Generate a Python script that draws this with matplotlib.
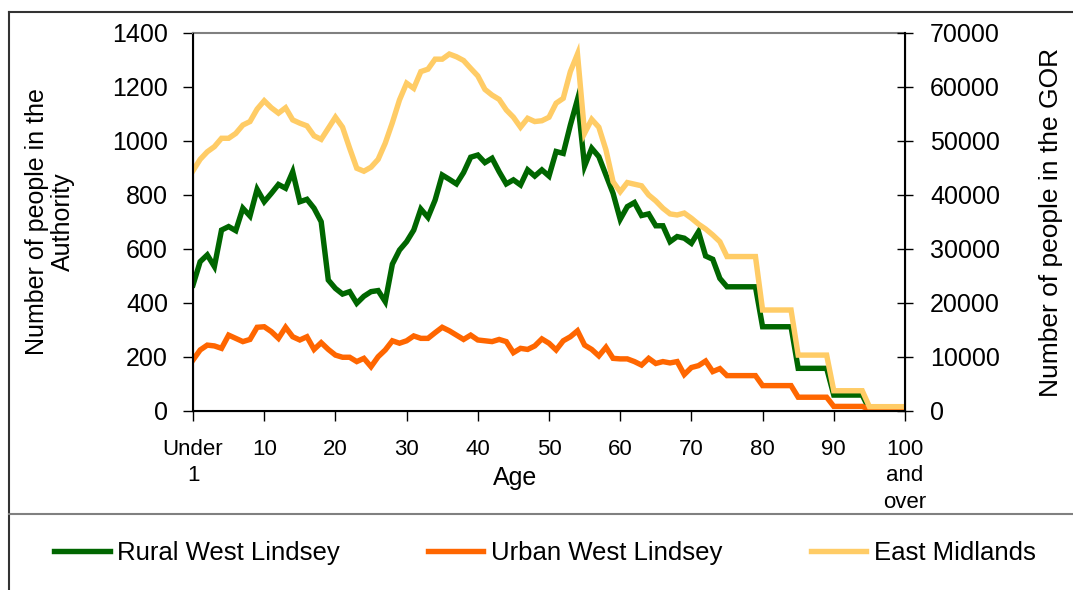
import matplotlib
matplotlib.use("Agg")
import matplotlib.pyplot as plt
from matplotlib.lines import Line2D

plt.rcParams['font.family'] = ['Liberation Sans', 'DejaVu Sans']

ages = list(range(101))
xtick_pos = [0, 10, 20, 30, 40, 50, 60, 70, 80, 90, 100]
xtick_labels = ["Under\n1", "10", "20", "30", "40", "50", "60", "70", "80", "90", "100\nand\nover"]

rural = [467, 553, 578, 535, 670, 683, 668, 751, 722, 821,
         775, 806, 839, 825, 886, 775, 784, 751, 701, 485,
         454, 433, 442, 399, 425, 442, 446, 405, 544, 596,
         627, 670, 748, 717, 781, 874, 858, 841, 883, 940,
         948, 920, 936, 886, 841, 856, 837, 893, 870, 893,
         870, 961, 954, 1059, 1154, 907, 973, 942, 874, 806,
         710, 757, 772, 724, 730, 686, 686, 627, 646, 640,
         621, 664, 574, 562, 491, 460, 460, 460, 460, 460,
         312, 312, 312, 312, 312, 158, 158, 158, 158, 158,
         59, 59, 59, 59, 59, 6, 6, 6, 6, 6,
         6]

urban = [189, 226, 244, 241, 232, 281, 269, 257, 265, 310,
         312, 294, 269, 310, 275, 263, 275, 228, 253, 228,
         207, 199, 199, 183, 195, 164, 201, 226, 260, 251,
         260, 278, 269, 269, 290, 310, 297, 281, 265, 281,
         263, 260, 257, 265, 257, 216, 232, 228, 241, 267,
         251, 226, 260, 275, 297, 244, 228, 204, 236, 195,
         193, 193, 183, 170, 195, 176, 183, 178, 183, 135,
         161, 168, 185, 146, 157, 131, 131, 131, 131, 131,
         94, 94, 94, 94, 94, 51, 51, 51, 51, 51,
         17, 17, 17, 17, 17, 6, 6, 6, 6, 6,
         6]

east_midlands = [44500, 46600, 48000, 48950, 50500, 50500, 51400, 52950, 53600, 55900,
                 57450, 56150, 55150, 56150, 53900, 53300, 52800, 50950, 50300, 52350,
                 54400, 52550, 48650, 44950, 44400, 45150, 46600, 49600, 53400, 57600,
                 60700, 59750, 62850, 63300, 65150, 65150, 66100, 65600, 64900, 63450,
                 62050, 59550, 58500, 57700, 55750, 54400, 52550, 54200, 53600, 53750,
                 54400, 57000, 57900, 62850, 66100, 51450, 54000, 52550, 48350, 42450,
                 40600, 42300, 42000, 41700, 40000, 38900, 37550, 36500, 36300, 36650,
                 35700, 34600, 33700, 32600, 31350, 28600, 28600, 28600, 28600, 28600,
                 18700, 18700, 18700, 18700, 18700, 10350, 10350, 10350, 10350, 10350,
                 3750, 3750, 3750, 3750, 3750, 800, 800, 800, 800, 800,
                 800]


def main():
    fig = plt.figure(figsize=(10.73, 5.90), dpi=100)
    ax = fig.add_axes([0.1799, 0.3034, 0.6635, 0.6407])

    l1, = ax.plot(ages, rural, color='#006600', linewidth=3.9, label="Rural West Lindsey",
                  solid_joinstyle='miter')
    l2, = ax.plot(ages, urban, color='#FF6600', linewidth=3.9, label="Urban West Lindsey",
                  solid_joinstyle='miter')
    ax.set_xlim(0, 100)
    ax.set_ylim(0, 1400)
    ax.set_yticks(range(0, 1401, 200))
    ax.set_xticks(xtick_pos)
    ax.set_xticklabels(xtick_labels, fontsize=16, linespacing=1.35)
    ax.tick_params(axis='y', labelsize=18, direction='out', length=7, width=1, pad=11)
    ax.tick_params(axis='x', direction='out', length=7, width=1, pad=13)
    ax.spines['top'].set_color('#808080')
    ax.spines['top'].set_linewidth(1.5)
    for s in ['left', 'bottom']:
        ax.spines[s].set_linewidth(1.5)

    ax.set_ylabel("Number of people in the\nAuthority", fontsize=18, linespacing=1.1)
    ax.yaxis.set_label_coords(-0.166, 0.5)
    ax.set_xlabel("Age", fontsize=18)
    ax.xaxis.set_label_coords(0.452, -0.145)

    ax2 = ax.twinx()
    l3, = ax2.plot(ages, east_midlands, color='#FFCC66', linewidth=3.9, label="East Midlands",
                   solid_joinstyle='miter')
    ax2.set_ylim(0, 70000)
    ax2.set_yticks(range(0, 70001, 10000))
    ax2.tick_params(axis='y', labelsize=18, direction='inout', length=12, width=1, pad=12)
    ax2.spines['top'].set_visible(False)
    ax2.spines['right'].set_linewidth(1.5)
    ax2.set_ylabel("Number of people in the GOR", fontsize=19)
    ax2.yaxis.set_label_coords(1.188, 0.5)

    fig.legend(handles=[l1, l2, l3], loc='center left', bbox_to_anchor=(0.041, 0.062),
               ncol=3, frameon=False, fontsize=18.5, handlelength=2.15, handletextpad=0.3,
               columnspacing=3.43, borderaxespad=0)

    # chart border and legend box line
    fig.add_artist(Line2D([0.0084, 1.0], [0.9797, 0.9797], color='#333333', linewidth=1.5))
    fig.add_artist(Line2D([0.0084, 0.0084], [0.0, 0.9797], color='#333333', linewidth=1.5))
    fig.add_artist(Line2D([0.0084, 1.0], [0.1288, 0.1288], color='#808080', linewidth=1.5))

    plt.savefig("out.png", dpi=100)


if __name__ == "__main__":
    main()
